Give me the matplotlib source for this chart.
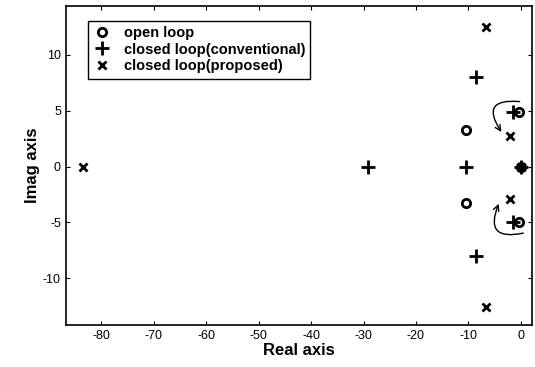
import matplotlib.pyplot as plt
from matplotlib.patches import FancyArrowPatch

plt.rcParams['font.family'] = ['Liberation Sans', 'DejaVu Sans']
plt.rcParams['axes.unicode_minus'] = False

# pole locations
open_re = [-10.4, -10.4, -0.4, -0.4, 0.0]
open_im = [3.25, -3.25, 4.85, -4.95, 0.0]

conv_re = [-29.1, -10.4, -8.6, -8.6, -1.4, -1.4, 0.0]
conv_im = [0.0, 0.0, 8.0, -8.0, 4.85, -4.95, 0.0]

prop_re = [-83.6, -6.6, -6.6, -2.1, -2.1, 0.0]
prop_im = [0.0, 12.5, -12.6, 2.75, -2.9, 0.0]

fig = plt.figure(figsize=(5.35, 3.67), dpi=100)
ax = fig.add_axes([0.123, 0.114, 0.871, 0.87])

mk = dict(color='black', linestyle='none', markeredgewidth=2)
ax.plot(open_re, open_im, marker='o', markerfacecolor='none', markersize=6,
        label='open loop', **mk)
ax.plot(conv_re, conv_im, marker='+', markersize=10,
        label='closed loop(conventional)', **mk)
ax.plot(prop_re, prop_im, marker='x', markersize=6,
        label='closed loop(proposed)', **mk)

# curved arrows showing pole movement
ax.add_patch(FancyArrowPatch((0.3, 5.8), (-3.4, 2.9), connectionstyle='arc3,rad=1.1',
                             arrowstyle='->', mutation_scale=10, color='black', lw=1))
ax.add_patch(FancyArrowPatch((1.0, -5.9), (-4.0, -3.1), connectionstyle='arc3,rad=-1.0',
                             arrowstyle='->', mutation_scale=10, color='black', lw=1))

ax.set_xlim(-86.8, 2.1)
ax.set_ylim(-14.2, 14.4)
ax.set_xticks(range(-80, 1, 10))
ax.set_yticks([-10, -5, 0, 5, 10])
ax.tick_params(direction='in', top=True, right=True, labelsize=9, length=3)
for s in ax.spines.values():
    s.set_linewidth(1.2)

ax.set_xlabel('Real axis', fontsize=12, fontweight='bold', labelpad=1)
ax.set_ylabel('Imag axis', fontsize=12, fontweight='bold', labelpad=2)

leg = ax.legend(loc='upper left', bbox_to_anchor=(0.032, 0.977), fancybox=False,
                framealpha=1, edgecolor='black', handlelength=1.2, handletextpad=0.9,
                borderpad=0.35, labelspacing=0.2, prop={'weight': 'bold', 'size': 10.5})
leg.get_frame().set_linewidth(1)

plt.savefig('out.png', dpi=100)
